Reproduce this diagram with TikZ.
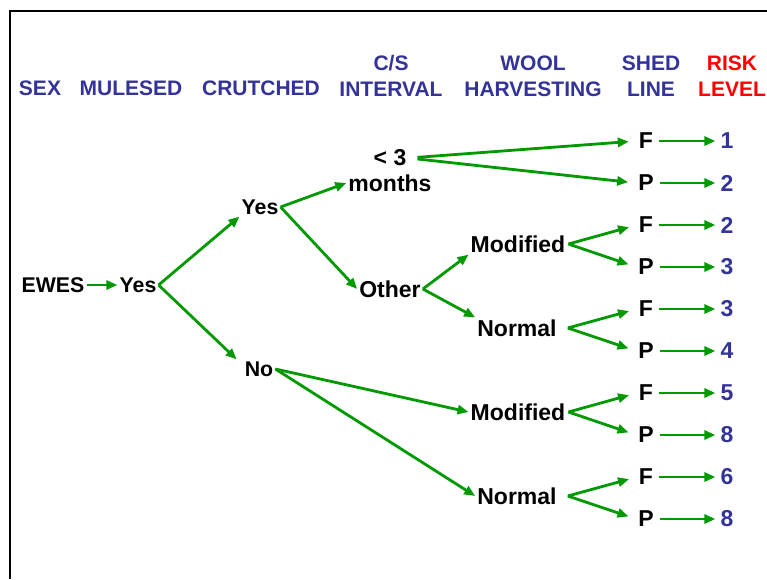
\documentclass[tikz,border=0pt]{standalone}
\usepackage{fontspec}
\setmainfont{Liberation Sans}
\usepackage{xcolor}
\usepackage{tikz}
\usetikzlibrary{arrows.meta, positioning}
\definecolor{TreeGreen}{RGB}{0, 153, 0}
\definecolor{HeadBlue}{RGB}{51, 51, 153}
\definecolor{RiskRed}{RGB}{255, 0, 0}
\tikzset{
  head/.style={font=\fontsize{21}{26}\selectfont\bfseries, text=HeadBlue, align=center, inner sep=0pt},
  choice/.style={font=\fontsize{23}{25}\selectfont\bfseries, inner sep=2pt},
  smallchoice/.style={choice, font=\fontsize{21.3}{24}\selectfont\bfseries},
  risk/.style={choice, text=HeadBlue},
  branch/.style={draw=TreeGreen, line width=2.8pt, -{Triangle[length=11pt,width=9pt]}},
}

\begin{document}
\begin{tikzpicture}[x=1pt, y=-1pt]
    \useasboundingbox (0,0) rectangle (767,579);
    \draw[line width=2.2pt] (10,579) |- (767,11);

    \node[head] (hsex) at (40,88) {SEX};
    \node[head] (hmul) at (131,88) {MULESED};
    \node[head] (hcru) at (261,88) {CRUTCHED};
    \node[head] (hint) at (391,76) {C/S\\INTERVAL};
    \node[head] (hwool) at (533,76) {WOOL\\HARVESTING};
    \node[head] (hshed) at (651,76) {SHED\\LINE};
    \node[head, text=RiskRed] (hrisk) at (732,76) {RISK\\LEVEL};

    \node[smallchoice] (ewes) at (53,285) {EWES};
    \node[smallchoice] (mulyes) at (138,285) {Yes};
    \node[smallchoice] (cruyes) at (260,207) {Yes};
    \node[smallchoice] (cruno) at (259,369) {No};
    \node[choice] (lt) at (390,158) {< 3};
    \node[choice] (months) at (390,183) {months};
    \node[choice] (other) at (390,289) {Other};
    \node[choice] (modA) at (518,244) {Modified};
    \node[choice] (normA) at (517,328) {Normal};
    \node[choice] (modB) at (518,412) {Modified};
    \node[choice] (normB) at (517,496) {Normal};

    \foreach \i/\s/\r in {1/F/1, 2/P/2, 3/F/2, 4/P/3, 5/F/3, 6/P/4, 7/F/5, 8/P/8, 9/F/6, 10/P/8} {
      \node[choice] (shed\i) at (646,99+42*\i) {\s};
      \node[risk] (risk\i) at (727,99+42*\i) {\r};
      \draw[branch, shorten <=4pt, shorten >=3pt] (shed\i.east) -- (risk\i.west);
    }

    \draw[branch] (ewes) -- (mulyes);
    \draw[branch] (mulyes.east) -- (cruyes.south west);
    \draw[branch] (mulyes.east) -- ([xshift=-6pt]cruno.north west);
    \draw[branch] (cruyes.east) -- (months.west);
    \draw[branch] (cruyes.east) -- (other.west);
    \draw[branch, shorten <=9pt, shorten >=8pt] (lt.east) -- (shed1.west);
    \draw[branch, shorten <=9pt, shorten >=8pt] (lt.east) -- (shed2.west);
    \draw[branch] (other.east) -- (modA.south west);
    \draw[branch] (other.east) -- (normA.north west);
    \draw[branch] (cruno.east) -- (modB.west);
    \draw[branch] (cruno.east) -- (normB.west);
    \foreach \m/\a/\b/\g in {modA/3/4/1, normA/5/6/9, modB/7/8/1, normB/9/10/9} {
      \draw[branch, shorten >=8pt] ([xshift=\g pt]\m.east) -- (shed\a.west);
      \draw[branch, shorten >=8pt] ([xshift=\g pt]\m.east) -- (shed\b.west);
    }
\end{tikzpicture}
\end{document}
